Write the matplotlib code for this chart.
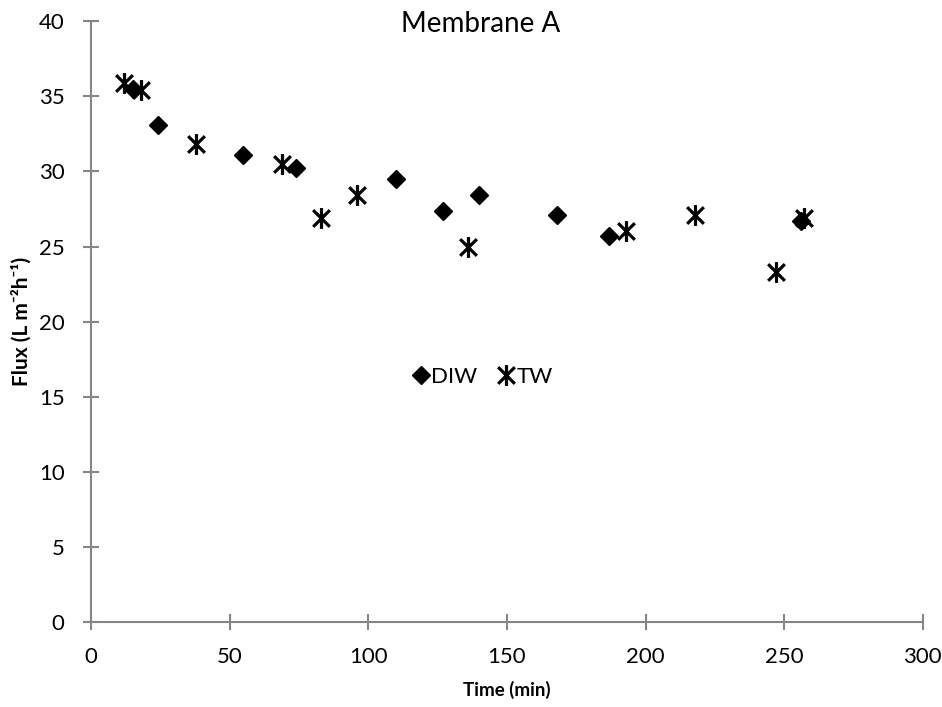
import numpy as np
import matplotlib
matplotlib.use("Agg")
import matplotlib.pyplot as plt
from matplotlib.path import Path

plt.rcParams['font.family'] = ['Lato', 'DejaVu Sans']

# flux readings, deionised water vs tap water
diw_time = [15, 24, 55, 74, 110, 127, 140, 168, 187, 256]
diw_flux = [35.5, 33.1, 31.1, 30.25, 29.5, 27.35, 28.4, 27.1, 25.7, 26.7]
tw_time = [12, 18, 38, 69, 83, 96, 136, 193, 218, 247, 257]
tw_flux = [35.9, 35.4, 31.8, 30.5, 26.9, 28.4, 25.0, 26.05, 27.1, 23.3, 26.9]

x_ticks = [0, 50, 100, 150, 200, 250, 300]
y_ticks = [0, 5, 10, 15, 20, 25, 30, 35, 40]

# asterisk like the spreadsheet one: an X with a vertical bar
star = Path([(0, -1), (0, 1), (-0.8, -0.8), (0.8, 0.8), (-0.8, 0.8), (0.8, -0.8)],
            [Path.MOVETO, Path.LINETO, Path.MOVETO, Path.LINETO, Path.MOVETO, Path.LINETO])

fig = plt.figure(figsize=(9.42, 7.07), dpi=100)
ax = fig.add_axes([0.0966, 0.1202, 0.883, 0.8498])

ax.plot(diw_time, diw_flux, linestyle='none', marker='D', markersize=9.5,
        color='black', label='DIW')
ax.plot(tw_time, tw_flux, linestyle='none', marker=star, markersize=15,
        markeredgewidth=2.3, color='black', label='TW')

ax.set_xlim(0, 300)
ax.set_ylim(0, 40)
ax.set_xticks(x_ticks)
ax.set_yticks(y_ticks)

grey = '#868686'
for side in ['top', 'right']:
    ax.spines[side].set_visible(False)
for side in ['left', 'bottom']:
    ax.spines[side].set_color(grey)
    ax.spines[side].set_linewidth(1.5)
ax.tick_params(direction='inout', length=12, width=1.5, color=grey,
               labelsize=16)
ax.tick_params(axis='x', pad=12)
ax.tick_params(axis='y', pad=13)

ax.set_xlabel('Time (min)', fontsize=13.5, fontweight='bold', labelpad=10)
ax.set_ylabel('Flux (L m\u207b\u00b2h\u207b\u00b9)', fontsize=15,
              fontweight='bold', labelpad=5)
ax.text(0.468, 0.995, 'Membrane A', transform=ax.transAxes, ha='center',
        va='center', fontsize=20)

ax.legend(loc='center', bbox_to_anchor=(0.472, 0.408), ncol=2, frameon=False,
          fontsize=16, handlelength=0.6, handletextpad=0.15, columnspacing=1.0)

fig.savefig('out.png', dpi=100)
